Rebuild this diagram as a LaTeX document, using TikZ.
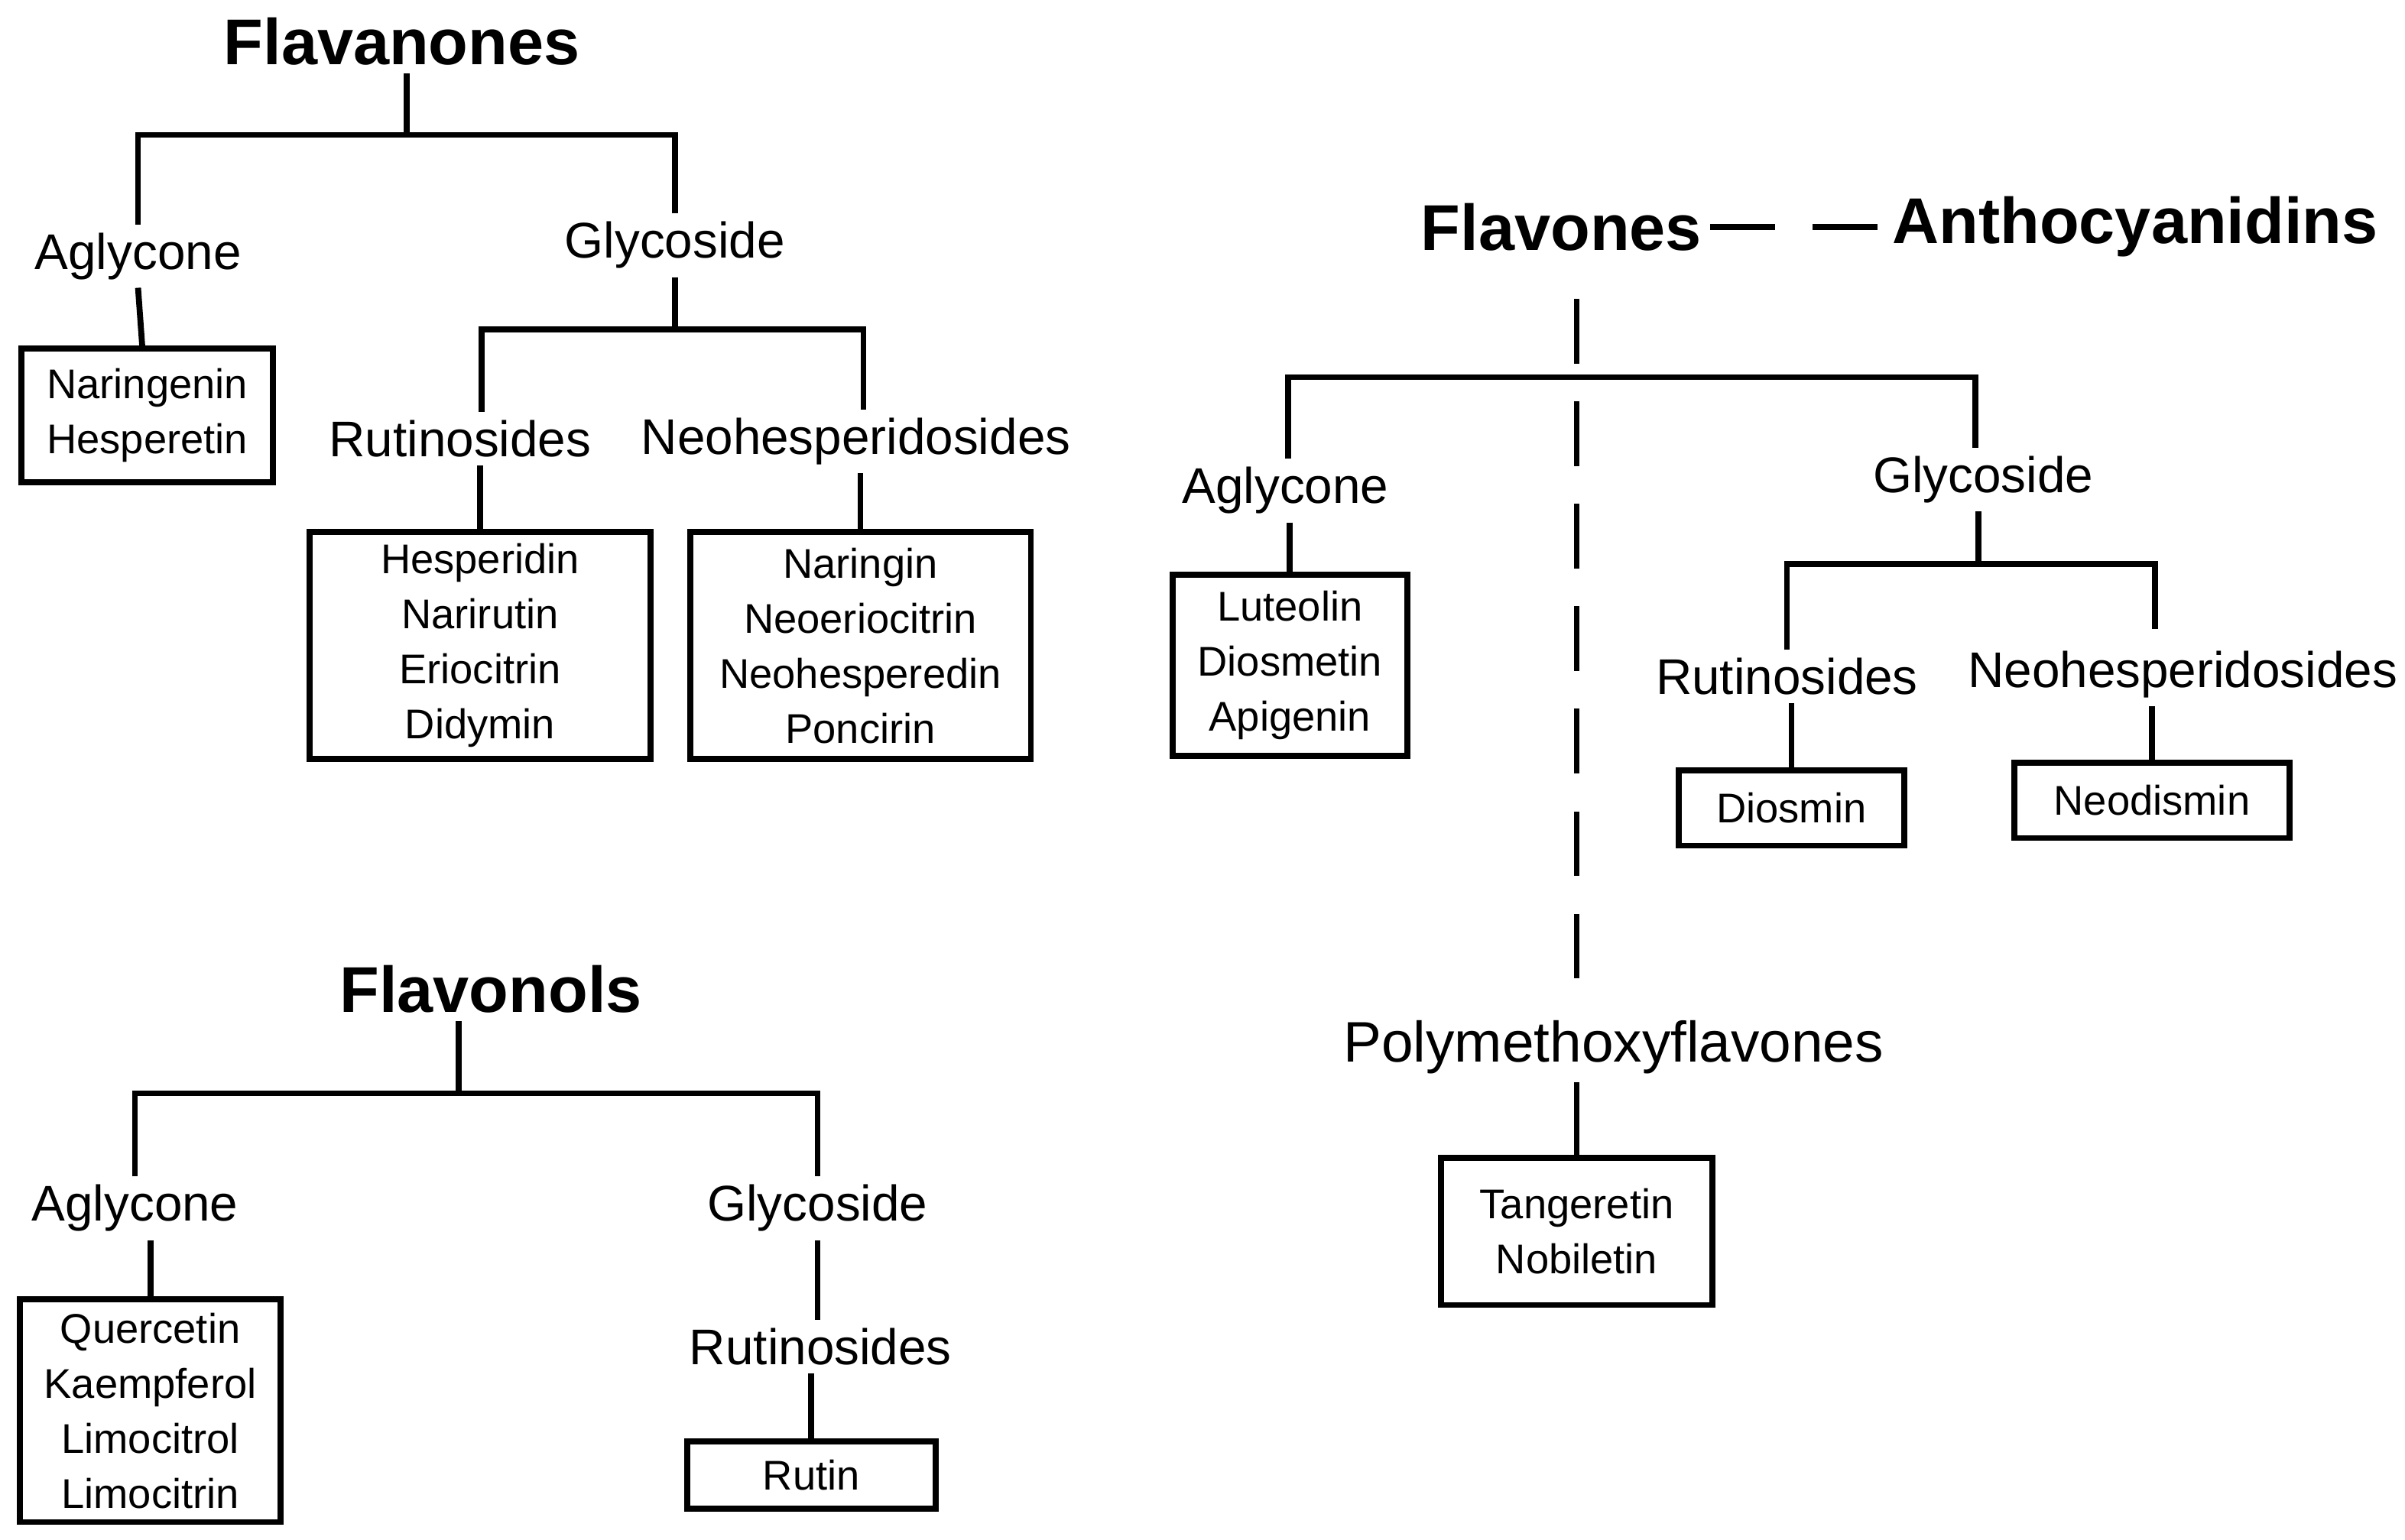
\documentclass[tikz,border=0pt]{standalone}
\usepackage{fontspec}
\setmainfont{Liberation Sans}
\usetikzlibrary{positioning}

\begin{document}
\begin{tikzpicture}[
  x=0.01cm, y=-0.01cm,
  every path/.style={line width=1.1pt},
  head/.style={font=\bfseries\fontsize{12}{14}\selectfont, inner sep=1pt},
  lab/.style={font=\fontsize{9.3}{11}\selectfont, inner sep=1pt},
  box/.style={draw, font=\fontsize{7.7}{10.2}\selectfont, align=center, inner sep=0pt},
  dsh/.style={dash pattern=on 12pt off 7pt}
  ]
  \useasboundingbox (0,0) rectangle (1568,1004);
  % Flavanones
  \node[head](fla) at (262,27){Flavanones};
  \coordinate (fla-b) at (265,88);
  \node[lab](fla-a) at (90,167){Aglycone};
  \node[lab](fla-g) at (440,160){Glycoside};
  \draw (fla.south -| fla-b) -- (fla-b);
  \draw (fla-a.north) |- (fla-b) -| (fla-g.north);
  \node[box, minimum width=1.64cm, minimum height=0.87cm](fla-ab) at (96,271){Naringenin\\Hesperetin};
  \draw (fla-a.south) -- (fla-ab);
  \coordinate (fla-gb) at (440,215);
  \node[lab](fla-r) at (300,286){Rutinosides};
  \node[lab](fla-n) at (558,288){Neohesperidosides};
  \draw (fla-g.south) -- (fla-gb);
  \draw (fla-r.north -| 314,0) |- (fla-gb) -| (fla-n.north -| 563,0);
  \node[box, minimum width=2.22cm, minimum height=1.48cm](fla-rb) at (313,421){Hesperidin\\Narirutin\\Eriocitrin\\Didymin};
  \node[box, minimum width=2.22cm, minimum height=1.48cm](fla-nb) at (561,421){Naringin\\Neoeriocitrin\\Neohesperedin\\Poncirin};
  \draw (fla-r.south -| fla-rb.north) -- (fla-rb);
  \draw (fla-n.south -| fla-nb.north) -- (fla-nb);
  % Flavonols
  \node[head](flo) at (320,645){Flavonols};
  \coordinate (flo-b) at (299,713);
  \node[lab](flo-a) at (88,788){Aglycone};
  \node[lab](flo-g) at (533,788){Glycoside};
  \draw (flo.south -| flo-b) -- (flo-b);
  \draw (flo-a.north) |- (flo-b) -| (flo-g.north);
  \node[box, minimum width=1.70cm, minimum height=1.45cm](flo-ab) at (98,920){Quercetin\\Kaempferol\\Limocitrol\\Limocitrin};
  \draw (flo-a.south -| flo-ab.north) -- (flo-ab);
  \node[lab](flo-r) at (535,878){Rutinosides};
  \draw (flo-g.south) -- (flo-r.north -| flo-g.south);
  \node[box, minimum width=1.62cm, minimum height=0.44cm](flo-rb) at (529,962){Rutin};
  \draw (flo-r.south -| flo-rb.north) -- (flo-rb);
  % Flavones
  \node[head](fle) at (1018,148){Flavones};
  \node[head](ant) at (1392,148){Anthocyanidins};
  \draw[dsh] (fle) -- (ant);
  \node[lab, font=\fontsize{10.6}{13}\selectfont](pmf) at (1052,683){Polymethoxyflavones};
  \coordinate (fle-v) at (1028,195);
  \draw[dsh] (fle-v) -- (pmf.north -| fle-v);
  \node[box, minimum width=1.77cm, minimum height=0.96cm](pmf-b) at (1028,803){Tangeretin\\Nobiletin};
  \draw (pmf.south -| pmf-b.north) -- (pmf-b);
  \coordinate (fle-b) at (1028,246);
  \node[lab](fle-a) at (838,320){Aglycone};
  \node[lab](fle-g) at (1293,313){Glycoside};
  \draw (fle-a.north -| 840,0) |- (fle-b) -| (fle-g.north -| 1288,0);
  \node[box, minimum width=1.53cm, minimum height=1.18cm](fle-ab) at (841,434){Luteolin\\Diosmetin\\Apigenin};
  \draw (fle-a.south -| fle-ab.north) -- (fle-ab);
  \coordinate (fle-gb) at (1290,368);
  \coordinate (fle-nc) at (1405,410);
  \node[lab](fle-r) at (1165,441){Rutinosides};
  \node[lab](fle-n) at (1423,440){Neohesperidosides};
  \draw (fle-g.south -| fle-gb) -- (fle-gb);
  \draw (fle-r.north) |- (fle-gb) -| (fle-nc);
  \node[box, minimum width=1.47cm, minimum height=0.49cm](fle-rb) at (1168,527){Diosmin};
  \node[box, minimum width=1.79cm, minimum height=0.49cm](fle-nb) at (1403,522){Neodismin};
  \draw (fle-r.south -| fle-rb.north) -- (fle-rb);
  \draw (fle-n.south -| fle-nb.north) -- (fle-nb);
\end{tikzpicture}
\end{document}
